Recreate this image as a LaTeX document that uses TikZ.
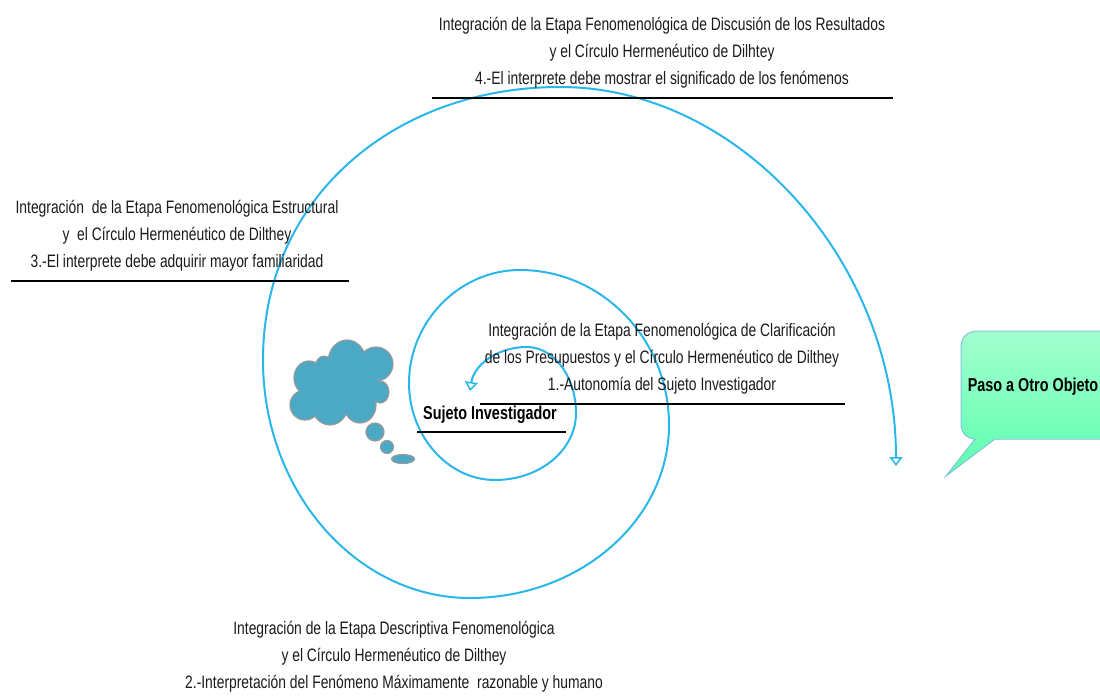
\documentclass[tikz,border=0pt]{standalone}
\usepackage{fontspec}
\setmainfont{Liberation Sans}[FakeStretch=0.77]
\usetikzlibrary{arrows.meta}
\definecolor{spiralblue}{HTML}{29B6EA}
\definecolor{cloudfill}{HTML}{4BA9C6}
\definecolor{cloudedge}{HTML}{9A9A9A}
\definecolor{calloutedge}{HTML}{7FC4E0}
\definecolor{calloutTop}{HTML}{A3FFCF}
\definecolor{calloutBot}{HTML}{5CFFAE}
\definecolor{ink}{HTML}{1A1A1A}
\tikzset{
  caption/.style={align=center,font=\fontsize{18}{27}\selectfont,text=ink,inner sep=0pt,anchor=center},
  boldcap/.style={font=\fontsize{18.7}{20}\selectfont\bfseries,text=black,inner sep=0pt,anchor=center},
  rule/.style={draw=black,line width=1.2pt},
  spiral/.style={draw=spiralblue,line width=2pt},
  puff/.style={fill=cloudfill},
  puffedge/.style={draw=cloudedge,line width=1.2pt,fill=cloudfill},
}
\begin{document}
\begin{tikzpicture}[x=1pt,y=-1pt]
\path[use as bounding box] (0,0) rectangle (1100,696);
\clip (0,0) rectangle (1100,696);
% cloud
\foreach \cx/\cy/\rx/\ry in {
 347/362/19/22, 376/364/17/17, 309/378/15/17, 324/368/9/12, 305/405/15/15, 330/405/18/20, 360/405/16/18, 380/392/9/11, 375/432/9/9, 387/447/6.5/6.5, 403/459/11.5/4.5}{
  \draw[puffedge] (\cx,\cy) ellipse [x radius=\rx,y radius=\ry];
}
\fill[puff] (343,387) ellipse [x radius=35,y radius=27];
\foreach \cx/\cy/\rx/\ry in {
 347/362/18/21, 376/364/16/16, 309/378/14/16, 324/368/8/11, 305/405/14/14, 330/405/17/19, 360/405/15/17, 380/392/8/10}{
  \fill[puff] (\cx,\cy) ellipse [x radius=\rx,y radius=\ry];
}
% spiral
\coordinate (s0) at (470,391);
\coordinate (s1) at (527,347);
\coordinate (s2) at (576,413);
\coordinate (s3) at (495,480);
\coordinate (s4) at (409,383);
\coordinate (s5) at (520,270);
\coordinate (s6) at (669,425);
\coordinate (s7) at (470,598);
\coordinate (s8) at (263,360);
\coordinate (s9) at (560,87);
\coordinate (s10) at (896,466);
\draw[spiral,{Triangle[open,length=9pt,width=13pt,line width=1.5pt]}-{Triangle[open,length=9pt,width=13pt,line width=1.5pt]}]
 (s0) .. controls (474,365) and (497,347) .. (s1)
 .. controls (554,347) and (576,377) .. (s2)
 .. controls (576,450) and (540,480) .. (s3)
 .. controls (448,480) and (409,436) .. (s4)
 .. controls (409,322) and (459,270) .. (s5)
 .. controls (602,270) and (669,339) .. (s6)
 .. controls (669,520) and (580,598) .. (s7)
 .. controls (356,598) and (263,491) .. (s8)
 .. controls (263,196) and (396,87) .. (s9)
 .. controls (740,87) and (896,262) .. (s10);
% callout
\path[draw=calloutedge,line width=1pt,top color=calloutTop,bottom color=calloutBot]
 (978,331) -- (1115,331) -- (1115,439) -- (995,439) -- (946,476) -- (975,439)
 -- (976,439) .. controls (967,439) and (961,433) .. (961,424) -- (961,347)
 .. controls (961,338) and (967,331) .. (978,331) -- cycle;
\node[boldcap] (callouttext) at (1033,387) {Paso a Otro Objeto};
% captions
\node[caption] (capD) at (662,52.5) {Integración de la Etapa Fenomenológica de Discusión de los Resultados\\y el Círculo Hermenéutico de Dilhtey\\4.-El interprete debe mostrar el significado de los fenómenos};
\coordinate (rD1) at (432,98); \coordinate (rD2) at (893,98);
\draw[rule] (rD1) -- (rD2);
\node[caption] (capC) at (177,236) {Integración~ de la Etapa Fenomenológica Estructural\\y~ el Círculo Hermenéutico de Dilthey\\3.-El interprete debe adquirir mayor familiaridad};
\coordinate (rC1) at (11,281); \coordinate (rC2) at (349,281);
\draw[rule] (rC1) -- (rC2);
\node[caption] (capA) at (662,359) {Integración de la Etapa Fenomenológica de Clarificación\\de los Presupuestos y el Círculo Hermenéutico de Dilthey\\1.-Autonomía del Sujeto Investigador};
\coordinate (rA1) at (480,404); \coordinate (rA2) at (845,404);
\draw[rule] (rA1) -- (rA2);
\node[boldcap] (sujeto) at (490,415) {Sujeto Investigador};
\coordinate (rS1) at (417,432); \coordinate (rS2) at (566,432);
\draw[rule] (rS1) -- (rS2);
\node[caption] (capB) at (394,657) {Integración de la Etapa Descriptiva Fenomenológica\\y el Círculo Hermenéutico de Dilthey\\2.-Interpretación del Fenómeno Máximamente~ razonable y humano};
\end{tikzpicture}
\end{document}
